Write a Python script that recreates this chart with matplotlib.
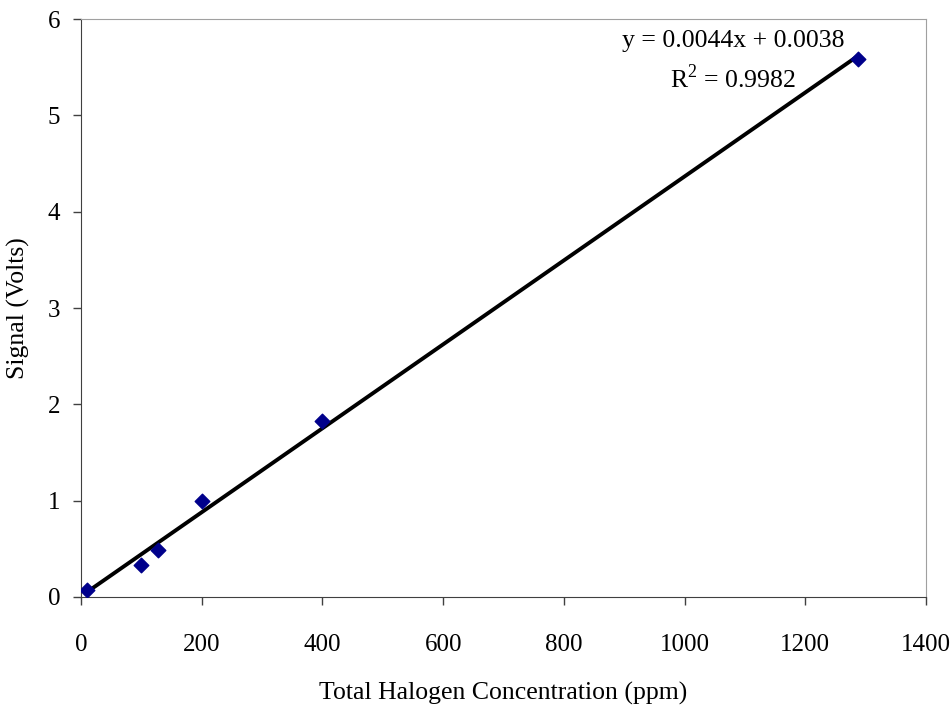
import numpy as np
import matplotlib
matplotlib.use("Agg")
from matplotlib import pyplot as plt

# halogen calibration data
conc_ppm = [10, 100, 128, 200, 400, 1287]
signal_v = [0.07, 0.33, 0.49, 1.0, 1.83, 5.59]
x_ticks = [0, 200, 400, 600, 800, 1000, 1200, 1400]
y_ticks = [0, 1, 2, 3, 4, 5, 6]

plt.rcParams["font.family"] = ["Liberation Serif", "DejaVu Serif"]
plt.rcParams["mathtext.fontset"] = "custom"
plt.rcParams["mathtext.rm"] = "Liberation Serif"

fig = plt.figure(figsize=(9.53, 7.06), dpi=100)
ax = fig.add_axes([0.085, 0.1544, 0.8867, 0.8186])

ax.scatter(conc_ppm, signal_v, marker="D", s=55, color="#00008b", zorder=3)

slope, intercept = np.polyfit(conc_ppm, signal_v, 1)
xs = np.array([min(conc_ppm), max(conc_ppm)])
ax.plot(xs, slope * xs + intercept, color="black", lw=2.8, zorder=2)

ax.set_xlim(0, 1400)
ax.set_ylim(0, 6)
ax.set_xticks(x_ticks)
ax.set_yticks(y_ticks)
ax.tick_params(direction="out", length=6, width=1, color="#404040",
               labelsize=18)
ax.tick_params(axis="x", pad=21)
ax.tick_params(axis="y", pad=9)

for side in ["top", "right"]:
    ax.spines[side].set_color("#a0a0a0")
for side in ["left", "bottom"]:
    ax.spines[side].set_color("#404040")

ax.set_xlabel("Total Halogen Concentration (ppm)", fontsize=18.5, labelpad=18.5)
ax.set_ylabel("Signal (Volts)", fontsize=18.5, labelpad=13)

ax.text(1080, 5.71, "y = 0.0044x + 0.0038", fontsize=18.5,
        ha="center", va="baseline")
ax.text(1080, 5.285, r"R$^{\mathrm{2}}$ = 0.9982", fontsize=18.5,
        ha="center", va="baseline")

fig.savefig("out.png", dpi=100)
plt.close(fig)
